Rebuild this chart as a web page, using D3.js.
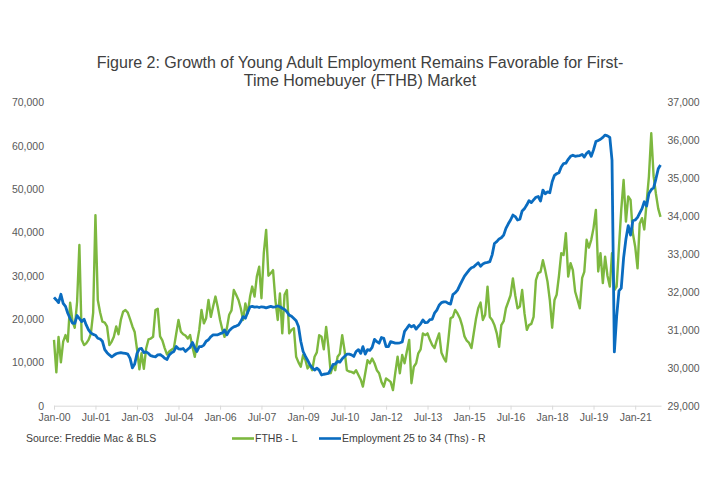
<!DOCTYPE html>
<html>
<head>
<meta charset="utf-8">
<script src="https://cdn.jsdelivr.net/npm/d3@7"></script>
<style>
  html, body { margin: 0; padding: 0; background: #ffffff; }
  svg { display: block; font-family: "Liberation Sans", Arial, sans-serif; }
</style>
</head>
<body>
<svg id="chart" width="715" height="500"></svg>
<script>
// ---------------- DATA ----------------
const startMonth = "Jan-00";   // first monthly observation
const endMonth = "Dec-21";     // last monthly observation

const titleLines = [
  "Figure 2: Growth of Young Adult Employment Remains Favorable for First-",
  "Time Homebuyer (FTHB) Market"
];

const xTickLabels = ["Jan-00","Jul-01","Jan-03","Jul-04","Jan-06","Jul-07","Jan-09",
  "Jul-10","Jan-12","Jul-13","Jan-15","Jul-16","Jan-18","Jul-19","Jan-21"];

const leftTicks = [0, 10000, 20000, 30000, 40000, 50000, 60000, 70000];
const rightTicks = [29000, 30000, 31000, 32000, 33000, 34000, 35000, 36000, 37000];

const seriesNames = ["FTHB - L", "Employment 25 to 34 (Ths) - R"];
const sourceText = "Source: Freddie Mac & BLS";

// FTHB (left axis), monthly Jan-2000 .. Dec-2021
const fthb = [
  15200,7700,15900,10000,14800,16300,14800,23800,19500,18000,24000,37100,
  15200,14000,14400,15200,16600,21500,44000,24400,21500,19400,19200,18300,
  14000,14800,15900,18300,16500,19800,21700,22100,21500,20000,18300,17000,
  13000,8400,12100,8500,13200,15300,15500,15900,22100,22400,16000,15100,
  13300,11800,12500,12900,13300,16600,19800,17100,16500,16200,15500,16300,
  13600,11300,14400,17500,22100,19000,20200,24400,20500,22900,25200,22800,
  19800,17500,15900,17900,21000,22000,26700,25600,24400,22500,19800,23600,
  21300,25200,27500,25200,29800,32100,24800,35200,40600,30000,30600,31300,
  24400,19800,25900,16700,25600,26700,16700,17500,17900,11300,10000,9000,
  11700,10500,8600,9400,8200,11300,12300,16300,15900,13000,18200,13600,
  7500,9400,8200,11300,12000,16300,12900,8200,7900,7800,7500,8200,
  7100,6000,4400,7500,10500,9800,10900,9800,8200,7500,5500,4400,
  6300,5900,5500,3600,7500,11300,7500,11700,9800,12500,15200,5200,
  9000,9800,12100,13000,16700,16300,16700,15200,14000,13300,15200,16700,
  12200,11000,10200,15000,20200,20500,22100,21300,20200,18500,16000,15000,
  14500,13300,16500,20000,22500,23800,19800,21000,27500,20500,19800,18600,
  16700,13600,18600,19500,22500,24000,25500,29400,25500,22500,22900,26700,
  21300,17500,18600,18900,20500,29000,30600,30900,33600,31300,28600,24400,
  18000,24400,25600,30000,35200,34800,39800,29800,32900,31300,26300,24500,
  22500,29500,30900,38300,36500,38300,41000,45200,31000,35200,28300,34400,
  30000,27500,35200,26700,27500,36700,45200,52100,42500,48300,47500,39800,
  36700,31700,42000,43300,40700,47000,52900,62900,53000,49000,45500,43600
];

// Employment 25 to 34, thousands (right axis), monthly Jan-2000 .. Dec-2021
const employment = [
  31860,31790,31720,31940,31700,31620,31440,31300,31180,31170,31380,31300,
  31220,31280,31130,31000,30920,30880,30860,30780,30760,30700,30480,30400,
  30340,30290,30330,30370,30390,30400,30390,30380,30360,30250,30000,30100,
  30380,30500,30510,30400,30420,30380,30320,30300,30290,30340,30350,30310,
  30250,30220,30340,30400,30430,30560,30500,30490,30510,30430,30490,30540,
  30670,30530,30430,30560,30560,30600,30700,30740,30820,30870,30870,30870,
  30900,30920,31000,30870,30980,31040,31080,31100,31130,31220,31350,31310,
  31470,31610,31620,31600,31610,31590,31610,31600,31580,31600,31620,31600,
  31610,31630,31610,31570,31540,31480,31390,31360,31300,31240,31090,30700,
  30430,30300,30200,30080,30000,29940,29990,29940,29810,29830,29840,29850,
  29960,30090,30100,30170,30150,30240,30300,30360,30360,30340,30300,30430,
  30480,30380,30560,30360,30480,30460,30540,30750,30690,30650,30800,30780,
  30560,30560,30690,30670,30650,30650,30660,30680,30960,31040,31130,31080,
  31120,31020,31090,31160,31260,31190,31200,31270,31280,31440,31520,31650,
  31720,31740,31740,31700,31680,31930,31980,32050,32180,32300,32420,32500,
  32580,32640,32660,32720,32770,32680,32740,32770,32780,32800,32980,33280,
  33330,33400,33430,33500,33680,33800,33900,34030,33990,33900,33920,34140,
  34200,34300,34410,34360,34430,34500,34520,34400,34690,34590,34640,34620,
  34910,35080,35120,35150,35300,35390,35400,35500,35580,35610,35580,35590,
  35600,35630,35560,35660,35710,35580,35750,35970,36000,36030,36080,36140,
  36120,36080,35480,30420,31350,32030,32100,32900,33400,33750,33500,33880,
  33900,33970,34080,34200,34380,34270,34600,34700,34750,34980,35250,35350
];

// ---------------- CHART ----------------
const parseM = d3.timeParse("%b-%y");
const months = d3.timeMonth.range(parseM(startMonth), d3.timeMonth.offset(parseM(endMonth), 1));

const colors = { fthb: "#7db83f", emp: "#0a6cc0" };
const plot = { left: 54, right: 660.5, top: 102.5, bottom: 405.7 };

const svg = d3.select("#chart");
svg.append("rect").attr("width", 715).attr("height", 500).attr("fill", "#ffffff");

const x = d3.scaleTime().domain([months[0], months[months.length - 1]]).range([plot.left, plot.right]);
const yL = d3.scaleLinear().domain([0, 70000]).range([plot.bottom, plot.top]);
const yR = d3.scaleLinear().domain([29000, 37000]).range([plot.bottom, plot.top]);

// Title
const title = svg.append("text")
  .attr("text-anchor", "middle")
  .attr("fill", "#404040")
  .style("font-size", "16px");
titleLines.forEach((t, i) => {
  title.append("tspan").attr("x", 360).attr("y", 68 + i * 17.5).text(t);
});

// Bottom axis
const xAxis = d3.axisBottom(x)
  .tickValues(xTickLabels.map(parseM))
  .tickFormat(d3.timeFormat("%b-%y"))
  .tickSizeInner(4)
  .tickSizeOuter(0)
  .tickPadding(3.5);
const gx = svg.append("g").attr("transform", `translate(0,${plot.bottom})`).call(xAxis);
gx.select(".domain").attr("stroke", "#d9d9d9").attr("d", `M${plot.left},0.5H${plot.right + 1}`);
gx.selectAll(".tick line").attr("stroke", "#d9d9d9");
gx.selectAll(".tick text").attr("fill", "#595959").style("font-size", "10.5px").style("font-family", "Liberation Sans, Arial, sans-serif");

// Left axis
const yAxisL = d3.axisLeft(yL).tickValues(leftTicks).tickFormat(d3.format(",")).tickSize(0).tickPadding(10);
const gl = svg.append("g").attr("transform", `translate(${plot.left},0)`).call(yAxisL);
gl.select(".domain").remove();
gl.selectAll(".tick text").attr("fill", "#595959").style("font-size", "10.5px").style("font-family", "Liberation Sans, Arial, sans-serif");

// Right axis
const yAxisR = d3.axisRight(yR).tickValues(rightTicks).tickFormat(d3.format(",")).tickSize(0).tickPadding(7);
const gr = svg.append("g").attr("transform", `translate(${plot.right},0)`).call(yAxisR);
gr.select(".domain").remove();
gr.selectAll(".tick text").attr("fill", "#595959").style("font-size", "10.5px").style("font-family", "Liberation Sans, Arial, sans-serif");

// Lines
const lineL = d3.line().x((d, i) => x(months[i])).y(d => yL(d));
const lineR = d3.line().x((d, i) => x(months[i])).y(d => yR(d));

svg.append("path").datum(fthb)
  .attr("fill", "none").attr("stroke", colors.fthb).attr("stroke-width", 2.4)
  .attr("stroke-linejoin", "round").attr("d", lineL);

svg.append("path").datum(employment)
  .attr("fill", "none").attr("stroke", colors.emp).attr("stroke-width", 2.8)
  .attr("stroke-linejoin", "round").attr("d", lineR);

// Source
svg.append("text").attr("x", 26).attr("y", 442)
  .attr("fill", "#404040").style("font-size", "10.5px").text(sourceText);

// Legend
const legend = [
  { name: seriesNames[0], color: colors.fthb, x: 232 },
  { name: seriesNames[1], color: colors.emp, x: 319 }
];
legend.forEach(l => {
  svg.append("line").attr("x1", l.x).attr("x2", l.x + 22).attr("y1", 438.5).attr("y2", 438.5)
    .attr("stroke", l.color).attr("stroke-width", 2.6);
  svg.append("text").attr("x", l.x + 23).attr("y", 442.3)
    .attr("fill", "#404040").style("font-size", "10.5px").text(l.name);
});
</script>
</body>
</html>
